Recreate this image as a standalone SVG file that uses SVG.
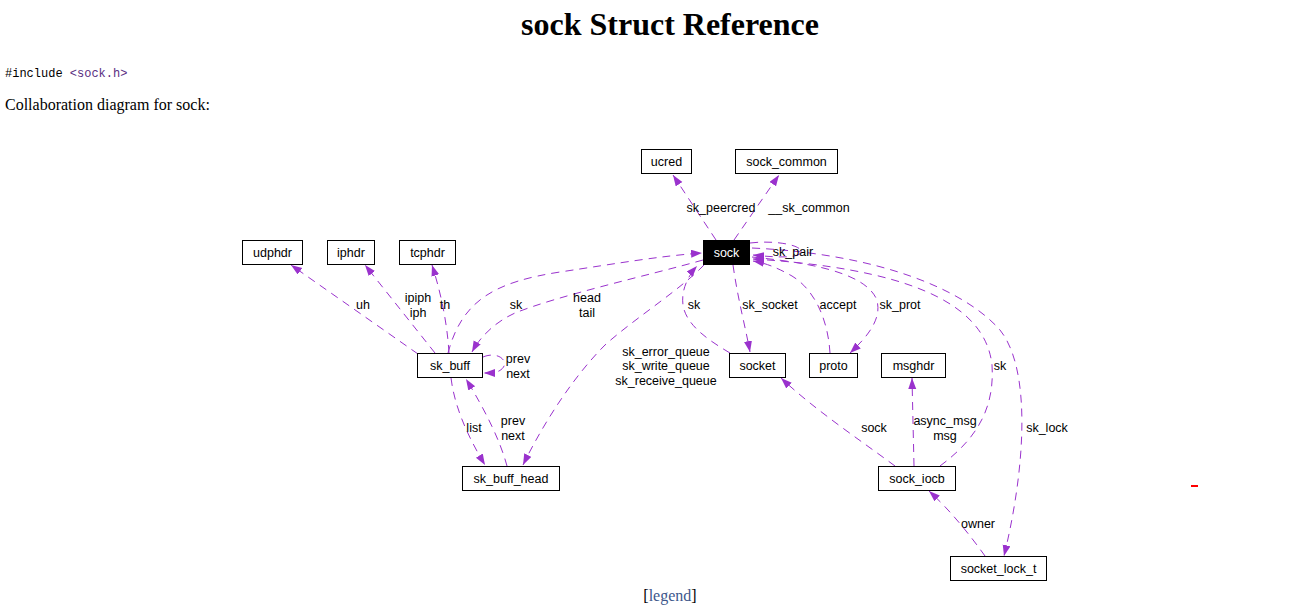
<svg xmlns="http://www.w3.org/2000/svg" width="1306" height="605" viewBox="0 0 1306 605">
<style>
.bg{fill:#ffffff}
.box{fill:#ffffff;stroke:#000000;stroke-width:1}
.sel{fill:#000000;stroke:#000000;stroke-width:1}
.nt{font-family:"Liberation Sans",Arial,sans-serif;font-size:12.5px;fill:#000000;text-anchor:middle}
.nw{font-family:"Liberation Sans",Arial,sans-serif;font-size:12.5px;fill:#ffffff;text-anchor:middle}
.e{fill:none;stroke:#9a32cd;stroke-width:1;stroke-dasharray:8,6;marker-end:url(#ah)}
.lb{font-family:"Liberation Sans",Arial,sans-serif;font-size:12.5px;fill:#000000;text-anchor:middle}
.title{font-family:"Liberation Serif","Times New Roman",serif;font-size:32px;font-weight:bold;fill:#000000;text-anchor:middle}
.mono{font-family:"Liberation Mono","Courier New",monospace;font-size:12px;fill:#000000}
.body{font-family:"Liberation Serif","Times New Roman",serif;font-size:16px;fill:#000000}
</style>
<defs>
<marker id="ah" markerUnits="userSpaceOnUse" markerWidth="12" markerHeight="10" refX="11" refY="4" orient="auto">
<path d="M0,0 L11,4 L0,8 z" fill="#9a32cd" stroke="none"/>
</marker>
</defs>
<rect class="bg" x="0" y="0" width="1306" height="605"/>
<text class="title" x="670" y="35">sock Struct Reference</text>
<text class="mono" x="5" y="77">#include <tspan fill="#5a2d82">&lt;sock.h&gt;</tspan></text>
<text class="body" x="5" y="110">Collaboration diagram for sock:</text>
<rect x="1191" y="485" width="7" height="2" fill="#ff0000"/>
<text class="body" x="670" y="601" text-anchor="middle" font-size="11">[<tspan fill="#3d578c">legend</tspan>]</text>

<g id="connectors">
<path class="e" d="M716,240 L673,175"/>
<path class="e" d="M734,240 L779,175"/>
<path class="e" d="M750,243 C775,240 800,245 801,251 C802,258 780,258 753,255"/>
<path class="e" d="M940,466 C975,440 995,410 992,365 C985,300 900,268 753,259"/>
<path class="e" d="M830,353 C828,320 815,290 792,276 C776,267 765,263 753,261"/>
<path class="e" d="M752,257 C800,262 862,270 876,298 C884,318 866,338 850,353"/>
<path class="e" d="M752,248 C880,254 965,290 1000,330 C1032,370 1025,470 1004,556"/>
<path class="e" d="M418,354 L291,265"/>
<path class="e" d="M435,353 L365,265"/>
<path class="e" d="M449,353 C447,320 440,290 432,265"/>
<path class="e" d="M448,353 C462,300 495,282 560,272 C620,263 660,256 702,253"/>
<path class="e" d="M703,260 C650,275 560,295 515,313 C495,322 480,337 472,352"/>
<path class="e" d="M704,265 C680,290 635,318 605,345 C575,375 545,420 523,465"/>
<path class="e" d="M730,353 C708,340 686,325 683,305 C681,290 688,276 697,266"/>
<path class="e" d="M733,265 C738,300 745,325 750,352"/>
<path class="e" d="M483,357 C500,350 512,364 499,371 C494,373 490,373 484,373"/>
<path class="e" d="M451,378 C455,410 470,440 485,465"/>
<path class="e" d="M507,466 C500,440 485,410 466,379"/>
<path class="e" d="M895,466 C860,440 815,410 781,378"/>
<path class="e" d="M914,466 L912,378"/>
<path class="e" d="M985,556 C970,535 950,510 929,491"/>
</g>

<g id="labels">
<text class="lb" x="721" y="212">sk_peercred</text>
<text class="lb" x="809" y="212">__sk_common</text>
<text class="lb" x="793" y="256">sk_pair</text>
<text class="lb" x="363" y="309">uh</text>
<text class="lb" x="418" y="302">ipiph</text>
<text class="lb" x="418" y="317">iph</text>
<text class="lb" x="445" y="309">th</text>
<text class="lb" x="516" y="309">sk</text>
<text class="lb" x="587" y="302">head</text>
<text class="lb" x="587" y="317">tail</text>
<text class="lb" x="694" y="309">sk</text>
<text class="lb" x="770" y="309">sk_socket</text>
<text class="lb" x="838" y="309">accept</text>
<text class="lb" x="900" y="309">sk_prot</text>
<text class="lb" x="518" y="363">prev</text>
<text class="lb" x="518" y="378">next</text>
<text class="lb" x="666" y="356">sk_error_queue</text>
<text class="lb" x="666" y="370">sk_write_queue</text>
<text class="lb" x="666" y="385">sk_receive_queue</text>
<text class="lb" x="474" y="432">list</text>
<text class="lb" x="513" y="425">prev</text>
<text class="lb" x="513" y="440">next</text>
<text class="lb" x="874" y="432">sock</text>
<text class="lb" x="945" y="425">async_msg</text>
<text class="lb" x="945" y="440">msg</text>
<text class="lb" x="1000" y="370">sk</text>
<text class="lb" x="1047" y="432">sk_lock</text>
<text class="lb" x="978" y="528">owner</text>
</g>

<g id="node-ucred"><rect class="box" x="641.5" y="149.5" width="50" height="24"/><text class="nt" x="666.5" y="166">ucred</text></g>
<g id="node-sock_common"><rect class="box" x="735.5" y="149.5" width="102" height="24"/><text class="nt" x="786.5" y="166">sock_common</text></g>
<g id="node-sock"><rect class="sel" x="703.5" y="240.5" width="46" height="24"/><text class="nw" x="726.5" y="257">sock</text></g>
<g id="node-udphdr"><rect class="box" x="242.5" y="240.5" width="60" height="24"/><text class="nt" x="272.5" y="257">udphdr</text></g>
<g id="node-iphdr"><rect class="box" x="327.5" y="240.5" width="47" height="24"/><text class="nt" x="351" y="257">iphdr</text></g>
<g id="node-tcphdr"><rect class="box" x="399.5" y="240.5" width="56" height="24"/><text class="nt" x="427.5" y="257">tcphdr</text></g>
<g id="node-sk_buff"><rect class="box" x="417.5" y="353.5" width="65" height="24"/><text class="nt" x="450" y="370">sk_buff</text></g>
<g id="node-socket"><rect class="box" x="729.5" y="353.5" width="56" height="24"/><text class="nt" x="757.5" y="370">socket</text></g>
<g id="node-proto"><rect class="box" x="809.5" y="353.5" width="48" height="24"/><text class="nt" x="833.5" y="370">proto</text></g>
<g id="node-msghdr"><rect class="box" x="881.5" y="353.5" width="64" height="24"/><text class="nt" x="913.5" y="370">msghdr</text></g>
<g id="node-sk_buff_head"><rect class="box" x="462.5" y="466.5" width="97" height="24"/><text class="nt" x="511" y="483">sk_buff_head</text></g>
<g id="node-sock_iocb"><rect class="box" x="878.5" y="466.5" width="77" height="24"/><text class="nt" x="917" y="483">sock_iocb</text></g>
<g id="node-socket_lock_t"><rect class="box" x="950.5" y="556.5" width="96" height="24"/><text class="nt" x="998.5" y="573">socket_lock_t</text></g>
</svg>
